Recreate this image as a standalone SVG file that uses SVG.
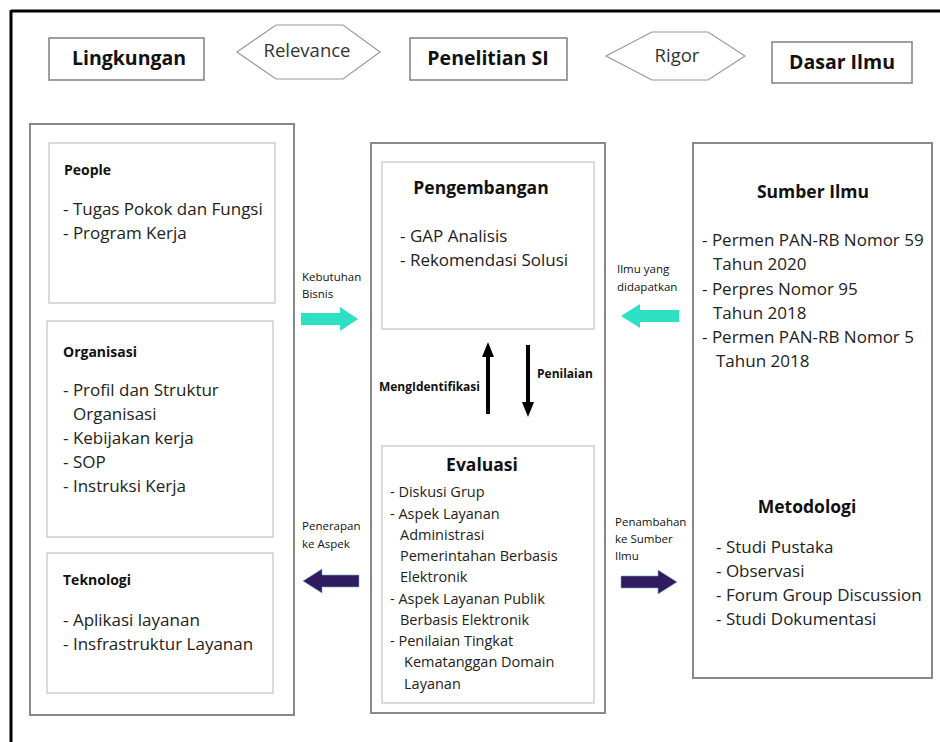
<svg xmlns="http://www.w3.org/2000/svg" width="940" height="742" viewBox="0 0 940 742">
<style>
text{font-family:"Open Sans","Noto Sans","Liberation Sans",sans-serif;fill:#111}
.hdr{font-size:19.5px;font-weight:bold;text-anchor:middle}
.hex{fill:#fff;stroke:#999;stroke-width:1.2}
.hbox{fill:#fff;stroke:#888;stroke-width:1.6}
.outer{fill:#fff;stroke:#888;stroke-width:2}
.inner{fill:#fff;stroke:#ccc;stroke-width:1.4}
.hl{font-size:18.5px;text-anchor:middle;fill:#333}
.sub{font-size:14px;font-weight:bold}
.t{font-size:17px;fill:#222}
.ts{font-size:14.5px;fill:#222}
.ttl{font-size:17.5px;font-weight:bold;text-anchor:middle}
.lab{font-size:11.5px;fill:#111}
.labb{font-size:12px;font-weight:bold}
</style>
<rect width="940" height="742" fill="#fff"/>
<g id="frame">
<line x1="11" y1="11" x2="940" y2="11" stroke="#000" stroke-width="3"/>
<line x1="11" y1="10" x2="11" y2="742" stroke="#000" stroke-width="3"/>
</g>
<g id="lingkungan-title"><rect class="hbox" x="49" y="38" width="155" height="42"/><text class="hdr" x="129" y="65">Lingkungan</text></g>
<g id="relevance"><polygon class="hex" points="237,52 276,25 343,25 380,52 343,79 276,79"/><text class="hl" x="307" y="57">Relevance</text></g>
<g id="penelitian-title"><rect class="hbox" x="410" y="38" width="157" height="42"/><text class="hdr" x="488" y="65">Penelitian SI</text></g>
<g id="rigor"><polygon class="hex" points="606,56 652,32 708,32 745,56 708,80 652,80"/><text class="hl" x="677" y="62">Rigor</text></g>
<g id="dasar-title"><rect class="hbox" x="772" y="42" width="140" height="41"/><text class="hdr" x="842" y="69">Dasar Ilmu</text></g>

<g id="lingkungan">
<rect class="outer" x="30" y="124" width="264" height="591"/>
<g id="people"><rect class="inner" x="49" y="143" width="226" height="160"/>
<text class="sub" x="64" y="175">People</text>
<text class="t" x="63" y="215">- Tugas Pokok dan Fungsi</text>
<text class="t" x="63" y="239">- Program Kerja</text></g>
<g id="organisasi"><rect class="inner" x="47" y="321" width="226" height="216"/>
<text class="sub" x="63" y="357">Organisasi</text>
<text class="t" x="63" y="396">- Profil dan Struktur</text>
<text class="t" x="73" y="420">Organisasi</text>
<text class="t" x="63" y="444">- Kebijakan kerja</text>
<text class="t" x="63" y="468">- SOP</text>
<text class="t" x="63" y="492">- Instruksi Kerja</text></g>
<g id="teknologi"><rect class="inner" x="47" y="553" width="226" height="140"/>
<text class="sub" x="63" y="585">Teknologi</text>
<text class="t" x="63" y="626">- Aplikasi layanan</text>
<text class="t" x="63" y="650">- Insfrastruktur Layanan</text></g>
</g>

<g id="penelitian">
<rect class="outer" x="371" y="143" width="234" height="570"/>
<g id="pengembangan"><rect class="inner" x="382" y="162" width="212" height="167"/>
<text class="ttl" x="481" y="194">Pengembangan</text>
<text class="t" x="400" y="242">- GAP Analisis</text>
<text class="t" x="400" y="266">- Rekomendasi Solusi</text></g>
<g id="evaluasi"><rect class="inner" x="382" y="446" width="212" height="257"/>
<text class="ttl" x="482" y="471">Evaluasi</text>
<text class="ts" x="390" y="497">- Diskusi Grup</text>
<text class="ts" x="390" y="519">- Aspek Layanan</text>
<text class="ts" x="400" y="540">Administrasi</text>
<text class="ts" x="400" y="561">Pemerintahan Berbasis</text>
<text class="ts" x="400" y="582">Elektronik</text>
<text class="ts" x="390" y="604">- Aspek Layanan Publik</text>
<text class="ts" x="400" y="625">Berbasis Elektronik</text>
<text class="ts" x="390" y="646">- Penilaian Tingkat</text>
<text class="ts" x="404" y="667">Kematanggan Domain</text>
<text class="ts" x="404" y="689">Layanan</text></g>
</g>

<g id="dasar">
<rect class="outer" x="693" y="143" width="239" height="535"/>
<g id="sumber"><text class="ttl" x="813" y="198">Sumber Ilmu</text>
<text class="t" x="702" y="246">- Permen PAN-RB Nomor 59</text>
<text class="t" x="713" y="270">Tahun 2020</text>
<text class="t" x="702" y="295">- Perpres Nomor 95</text>
<text class="t" x="713" y="319">Tahun 2018</text>
<text class="t" x="702" y="343">- Permen PAN-RB Nomor 5</text>
<text class="t" x="716" y="367">Tahun 2018</text></g>
<g id="metodologi"><text class="ttl" x="807" y="513">Metodologi</text>
<text class="t" x="716" y="553">- Studi Pustaka</text>
<text class="t" x="716" y="577">- Observasi</text>
<text class="t" x="716" y="601">- Forum Group Discussion</text>
<text class="t" x="716" y="625">- Studi Dokumentasi</text></g>
</g>

<g id="connectors">
<polygon fill="#2de0c4" points="301,313 340,313 340,307 358,319 340,331 340,325 301,325"/>
<text class="lab" x="302" y="281">Kebutuhan</text><text class="lab" x="302" y="298">Bisnis</text>
<polygon fill="#2de0c4" points="679,310 640,310 640,304 621,316 640,328 640,322 679,322"/>
<text class="lab" x="617" y="273">Ilmu yang</text><text class="lab" x="617" y="291">didapatkan</text>
<polygon fill="#301b5e" stroke="#6fb3c0" stroke-width="0.6" points="359,575 322,575 322,569 303,581 322,593 322,587 359,587"/>
<text class="lab" x="302" y="530">Penerapan</text><text class="lab" x="302" y="548">ke Aspek</text>
<polygon fill="#301b5e" stroke="#6fb3c0" stroke-width="0.6" points="621,576 658,576 658,570 677,582 658,594 658,588 621,588"/>
<text class="lab" x="615" y="526">Penambahan</text><text class="lab" x="615" y="543">ke Sumber</text><text class="lab" x="615" y="560">Ilmu</text>
<polygon fill="#000" points="486,414 490,414 490,357 494,357 488,342 482,357 486,357"/>
<polygon fill="#000" points="526,345 530,345 530,402 534,402 528,417 522,402 526,402"/>
<text class="labb" x="480" y="391" text-anchor="end">MengIdentifikasi</text>
<text class="labb" x="537" y="378">Penilaian</text>
</g>
</svg>
